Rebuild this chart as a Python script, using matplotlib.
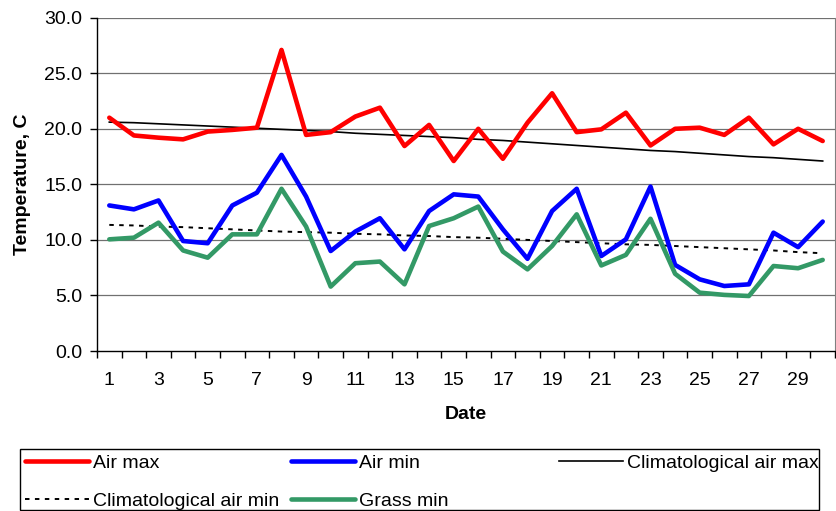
import numpy as np
import matplotlib
matplotlib.use("Agg")
import matplotlib.pyplot as plt
from matplotlib.patches import Rectangle

plt.rcParams['font.family'] = ['Liberation Sans', 'DejaVu Sans']

days = list(range(1, 31))
air_max = [21.0, 19.4, 19.2, 19.05, 19.75, 19.9, 20.1, 27.1, 19.45, 19.7,
           21.1, 21.9, 18.45, 20.35, 17.1, 20.0, 17.3, 20.55, 23.2, 19.7,
           19.95, 21.45, 18.5, 20.0, 20.1, 19.45, 21.0, 18.6, 20.0, 18.9]
air_min = [13.1, 12.75, 13.55, 9.9, 9.7, 13.1, 14.25, 17.65, 13.9, 9.0,
           10.75, 11.95, 9.15, 12.6, 14.1, 13.9, 10.95, 8.3, 12.6, 14.6,
           8.55, 10.05, 14.8, 7.75, 6.45, 5.85, 6.0, 10.65, 9.35, 11.65]
grass_min = [10.05, 10.2, 11.55, 9.05, 8.4, 10.5, 10.5, 14.6, 11.2, 5.8,
             7.9, 8.05, 6.0, 11.25, 11.95, 13.0, 8.95, 7.35, 9.45, 12.3,
             7.7, 8.65, 11.9, 6.95, 5.25, 5.05, 4.95, 7.65, 7.45, 8.2]
clim_max = [20.6, 20.55, 20.45, 20.35, 20.25, 20.15, 20.05, 19.95, 19.85, 19.75,
            19.6, 19.5, 19.4, 19.3, 19.2, 19.05, 18.95, 18.8, 18.65, 18.5,
            18.35, 18.2, 18.05, 17.95, 17.8, 17.65, 17.5, 17.4, 17.25, 17.1]
clim_min = [11.35, 11.3, 11.2, 11.15, 11.05, 10.95, 10.85, 10.75, 10.7, 10.65,
            10.55, 10.5, 10.4, 10.35, 10.25, 10.2, 10.1, 10.0, 9.9, 9.8,
            9.7, 9.6, 9.55, 9.45, 9.35, 9.25, 9.15, 9.05, 8.9, 8.8]
x_labels = [str(d) for d in range(1, 30, 2)]
y_ticks = [0, 5, 10, 15, 20, 25, 30]

fs = 14

fig = plt.figure(figsize=(8.36, 5.11), dpi=100)
ax = fig.add_axes([97/836, 1-351/511, (835-97)/836, (351-17.7)/511])

for y in y_ticks[1:]:
    ax.axhline(y, color='#707070', lw=0.9, zorder=1)

kw = dict(lw=3.3, solid_joinstyle='round', solid_capstyle='round', zorder=3)
h_max, = ax.plot(days, air_max, color='#FF0000', label='Air max', **kw)
h_min, = ax.plot(days, air_min, color='#0000FF', label='Air min', **kw)
h_cmax, = ax.plot(days, clim_max, color='black', lw=1.2, label='Climatological air max', zorder=2)
h_cmin, = ax.plot(days, clim_min, color='black', lw=1.4, ls=(0, (2.3, 2.8)), label='Climatological air min', zorder=2)
h_grass, = ax.plot(days, grass_min, color='#339966', label='Grass min', **kw)

ax.set_xlim(0.5, 30.5)
ax.set_ylim(0, 30)
ax.set_yticks(y_ticks)
ax.set_yticklabels(['%.1f' % v for v in y_ticks])
ax.set_xticks(range(1, 30, 2))
ax.set_xticklabels(x_labels)
ax.set_xticks(np.arange(0.5, 31, 1), minor=True)
ax.tick_params(axis='x', which='major', length=0, pad=15, labelsize=fs)
ax.tick_params(axis='x', which='minor', length=5, width=1, direction='out')
ax.tick_params(axis='y', length=5, width=1, direction='out', pad=5.5, labelsize=fs)

ax.spines['top'].set_visible(False)
ax.spines['right'].set_color('#808080')
ax.spines['left'].set_linewidth(1)
ax.spines['bottom'].set_linewidth(1)

ax.set_xlabel('Date', fontweight='bold', fontsize=fs, labelpad=12)
ax.set_ylabel('Temperature, C', fontweight='bold', fontsize=fs, labelpad=10)

fig.patches.append(Rectangle((20/836, 1-510/511), 799/836, 61/511, transform=fig.transFigure,
                             fill=False, edgecolor='black', lw=1))

leg_kw = dict(loc='upper left', frameon=False, borderpad=0, borderaxespad=0, fontsize=fs,
              handlelength=3.3, handletextpad=0.2, labelspacing=1.05)
y_top = 1 - 454/511
l1 = fig.legend(handles=[h_max, h_cmin], bbox_to_anchor=(25/836, y_top), **leg_kw)
l2 = fig.legend(handles=[h_min, h_grass], bbox_to_anchor=(291/836, y_top), **leg_kw)
l3 = fig.legend(handles=[h_cmax], bbox_to_anchor=(559/836, y_top), **leg_kw)

fig.savefig('out.png', dpi=100)
